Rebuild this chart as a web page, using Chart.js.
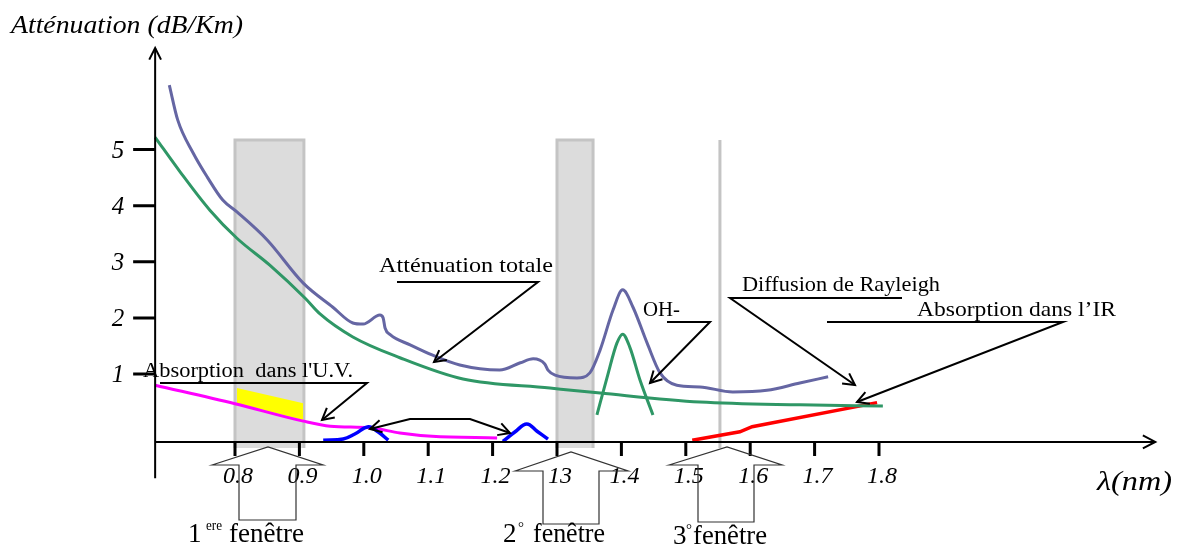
<!DOCTYPE html>
<html>
<head>
<meta charset="utf-8">
<script src="https://cdn.jsdelivr.net/npm/chart.js@4.4.1/dist/chart.umd.min.js"></script>
<style>
  html, body { margin: 0; background: #fff; }
  #wrap { width: 1180px; height: 547px; }
</style>
</head>
<body>
<div id="wrap"><canvas id="fibre"></canvas></div>
<script>
// wavelength (x) and attenuation in dB/Km (y)
const totalLambda = [0.698, 0.711, 0.735, 0.757, 0.781, 0.803, 0.850, 0.906, 0.952, 0.983, 0.999, 1.025, 1.030, 1.033, 1.041, 1.072, 1.106, 1.149, 1.211, 1.243, 1.263, 1.281, 1.286, 1.297, 1.331, 1.351, 1.367, 1.387, 1.402, 1.418, 1.440, 1.460, 1.486, 1.522, 1.573, 1.626, 1.677, 1.721];
const totalAtt    = [6.15, 5.53, 4.94, 4.51, 4.10, 3.89, 3.39, 2.62, 2.19, 1.91, 1.89, 2.05, 2.00, 1.82, 1.70, 1.52, 1.34, 1.16, 1.07, 1.20, 1.27, 1.18, 1.07, 0.98, 0.93, 1.02, 1.43, 2.14, 2.50, 2.19, 1.55, 1.02, 0.80, 0.77, 0.68, 0.71, 0.84, 0.95];

const rayleighLambda = [0.676, 0.715, 0.761, 0.803, 0.854, 0.909, 0.932, 0.983, 1.056, 1.154, 1.289, 1.367, 1.522, 1.677, 1.806];
const rayleighAtt    = [5.22, 4.60, 3.92, 3.42, 2.94, 2.35, 2.07, 1.66, 1.29, 0.91, 0.75, 0.66, 0.50, 0.45, 0.43];

const ohLambda = [1.362, 1.378, 1.393, 1.402, 1.413, 1.429, 1.449];
const ohAtt    = [0.27, 0.95, 1.55, 1.71, 1.48, 0.89, 0.27];

const uvLambda = [0.676, 0.800, 0.906, 0.948, 1.010, 1.056, 1.106, 1.207];
const uvAtt    = [0.80, 0.47, 0.16, 0.07, 0.04, -0.05, -0.11, -0.14];

const yellowLambda = [0.803, 0.906];
const yellowTop    = [0.75, 0.48];
const yellowBottom = [0.48, 0.18];

const bump1Lambda = [0.937, 0.968, 0.986, 1.007, 1.022, 1.038];
const bump1Att    = [-0.18, -0.16, -0.07, 0.06, -0.03, -0.18];
const bump2Lambda = [1.216, 1.235, 1.253, 1.269, 1.286];
const bump2Att    = [-0.20, -0.03, 0.11, -0.02, -0.16];

const irLambda = [1.510, 1.584, 1.603, 1.797];
const irAtt    = [-0.18, -0.03, 0.06, 0.49];

// transmission windows
const windowStart = [0.800, 1.300, 1.553];
const windowEnd   = [0.907, 1.356, 1.553];
const windowTopAtt = 5.17;
const windowBottomAtt = -0.32;

// axes
const xTickValues = [0.8, 0.9, 1.0, 1.1, 1.2, 1.3, 1.4, 1.5, 1.6, 1.7, 1.8];
const xTickLabels = ['0.8', '0.9', '1.0', '1.1', '1.2', '13', '1.4', '1.5', '1.6', '1.7', '1.8'];
const yTickValues = [1, 2, 3, 4, 5];
const originLambda = 0.676;
const originAtt = -0.21;

const SERIF = '"Liberation Serif", "Times New Roman", serif';

function pts(xs, ys) {
  return xs.map((x, i) => ({ x: x, y: ys[i] }));
}

function curve(data, color, width, order, smooth) {
  const ds = {
    data: data, borderColor: color, borderWidth: width, pointRadius: 0,
    fill: false, order: order
  };
  if (smooth === 'monotone') ds.cubicInterpolationMode = 'monotone';
  else ds.tension = smooth;
  return ds;
}

const datasets = [];
for (let i = 0; i < windowStart.length; i++) {
  datasets.push({
    data: [
      { x: windowStart[i], y: windowBottomAtt }, { x: windowStart[i], y: windowTopAtt },
      { x: windowEnd[i], y: windowTopAtt }, { x: windowEnd[i], y: windowBottomAtt }
    ],
    borderColor: '#c4c4c4', borderWidth: 3, backgroundColor: '#dcdcdc',
    fill: { value: windowBottomAtt }, pointRadius: 0, tension: 0, order: 10
  });
}
datasets.push({
  data: pts(yellowLambda, yellowTop), borderWidth: 0, pointRadius: 0,
  backgroundColor: '#ffff00', fill: '+1', order: 5
});
datasets.push({
  data: pts(yellowLambda, yellowBottom), borderWidth: 0, pointRadius: 0,
  fill: false, order: 5
});
datasets.push(curve(pts(totalLambda, totalAtt), '#6566a3', 3, 1, 'monotone'));
datasets.push(curve(pts(rayleighLambda, rayleighAtt), '#2f9766', 3, 1, 'monotone'));
datasets.push(curve(pts(ohLambda, ohAtt), '#2f9766', 3, 1, 'monotone'));
datasets.push(curve(pts(uvLambda, uvAtt), '#ff00ff', 3, 2, 'monotone'));
datasets.push(curve(pts(bump1Lambda, bump1Att), '#0000ff', 3.5, 1, 0.4));
datasets.push(curve(pts(bump2Lambda, bump2Att), '#0000ff', 3.5, 1, 0.4));
datasets.push(curve(pts(irLambda, irAtt), '#ff0000', 3.5, 1, 0));

function arrowHead(ctx, fx, fy, tx, ty, len, spread) {
  const a = Math.atan2(ty - fy, tx - fx);
  ctx.beginPath();
  ctx.moveTo(tx - len * Math.cos(a - spread), ty - len * Math.sin(a - spread));
  ctx.lineTo(tx, ty);
  ctx.lineTo(tx - len * Math.cos(a + spread), ty - len * Math.sin(a + spread));
  ctx.stroke();
}

function leader(ctx, path, both) {
  ctx.beginPath();
  ctx.moveTo(path[0][0], path[0][1]);
  for (let i = 1; i < path.length; i++) ctx.lineTo(path[i][0], path[i][1]);
  ctx.stroke();
  const n = path.length;
  arrowHead(ctx, path[n - 2][0], path[n - 2][1], path[n - 1][0], path[n - 1][1], 13, 0.5);
  if (both) arrowHead(ctx, path[1][0], path[1][1], path[0][0], path[0][1], 13, 0.5);
}

function text(ctx, s, x, y, font, w) {
  ctx.font = font;
  const sx = w ? w / ctx.measureText(s).width : 1;
  ctx.save();
  ctx.translate(x, y);
  ctx.scale(sx, 1);
  ctx.fillText(s, 0, 0);
  ctx.restore();
}

function blockArrow(ctx, tipX, tipY, wingL, wingR, wingY, shaftL, shaftR, bottom) {
  ctx.beginPath();
  ctx.moveTo(wingL, wingY);
  ctx.lineTo(tipX, tipY);
  ctx.lineTo(wingR, wingY);
  ctx.lineTo(shaftR, wingY);
  ctx.lineTo(shaftR, bottom);
  ctx.lineTo(shaftL, bottom);
  ctx.lineTo(shaftL, wingY);
  ctx.closePath();
  ctx.stroke();
}

const axesPlugin = {
  id: 'axesPlugin',
  afterDatasetsDraw(chart) {
    const { ctx } = chart;
    const xs = chart.scales.x, ys = chart.scales.y;
    const x0 = xs.getPixelForValue(originLambda);
    const y0 = ys.getPixelForValue(originAtt);
    const yTop = ys.getPixelForValue(6.81);
    const yBottom = ys.getPixelForValue(-0.86);
    const xRight = xs.getPixelForValue(2.229);

    ctx.save();
    ctx.strokeStyle = '#000';
    ctx.fillStyle = '#000';
    ctx.lineWidth = 2;
    ctx.lineCap = 'butt';

    // axis lines with arrows
    ctx.beginPath();
    ctx.moveTo(x0, yBottom); ctx.lineTo(x0, yTop);
    ctx.moveTo(x0, y0); ctx.lineTo(xRight, y0);
    ctx.stroke();
    arrowHead(ctx, x0, yTop + 20, x0, yTop, 13, 0.47);
    arrowHead(ctx, xRight - 20, y0, xRight, y0, 14, 0.48);

    // ticks
    ctx.lineWidth = 3;
    ctx.beginPath();
    xTickValues.forEach(v => {
      const px = xs.getPixelForValue(v);
      ctx.moveTo(px, y0); ctx.lineTo(px, y0 + 14);
    });
    yTickValues.forEach(v => {
      const py = ys.getPixelForValue(v);
      ctx.moveTo(x0 - 22, py); ctx.lineTo(x0, py);
    });
    ctx.stroke();

    ctx.textAlign = 'center';
    ctx.textBaseline = 'alphabetic';
    ctx.font = 'italic 24px ' + SERIF;
    xTickValues.forEach((v, i) => {
      ctx.fillText(xTickLabels[i], xs.getPixelForValue(v) + 3, y0 + 41);
    });
    ctx.textAlign = 'right';
    ctx.textBaseline = 'alphabetic';
    ctx.font = 'italic 25px ' + SERIF;
    yTickValues.forEach(v => {
      ctx.fillText(String(v), x0 - 31, ys.getPixelForValue(v) + 8);
    });

    // titles
    ctx.textAlign = 'left';
    text(ctx, 'Atténuation (dB/Km)', 11, 33, 'italic 25px ' + SERIF, 232);
    text(ctx, 'λ(nm)', 1097, 490, 'italic 27px ' + SERIF, 75);

    // annotations
    text(ctx, 'Atténuation totale', 379, 272, '22px ' + SERIF, 174);
    text(ctx, 'OH-', 643, 316, '20px ' + SERIF, 37);
    text(ctx, 'Diffusion de Rayleigh', 742, 291, '21px ' + SERIF, 198);
    text(ctx, 'Absorption dans l’IR', 917, 316, '21px ' + SERIF, 199);
    text(ctx, 'Absorption  dans l\'U.V.', 143, 377, '20px ' + SERIF, 210);

    ctx.lineWidth = 2;
    leader(ctx, [[397, 282], [538, 282], [434, 362]]);
    leader(ctx, [[667, 322], [710, 322], [650, 383]]);
    leader(ctx, [[902, 298], [730, 298], [855, 385]]);
    leader(ctx, [[827, 322], [1063, 322], [857, 402]]);
    leader(ctx, [[160, 383], [367, 383], [322, 420]]);
    leader(ctx, [[370, 429], [410, 419], [470, 419], [510, 433]], true);

    // window pointers
    ctx.lineWidth = 1.2;
    ctx.strokeStyle = '#333';
    blockArrow(ctx, 268, 447, 212, 323, 465, 239, 296, 520);
    blockArrow(ctx, 571, 452, 515, 628, 471, 543, 599, 524);
    blockArrow(ctx, 727, 447, 669, 782, 465, 698, 754, 522);

    ctx.fillStyle = '#000';
    text(ctx, '1', 188, 542, '27px ' + SERIF);
    text(ctx, 'ere', 206, 530, '15px ' + SERIF, 16);
    text(ctx, 'fenêtre', 229, 542, '27px ' + SERIF, 75);
    text(ctx, '2', 503, 542, '27px ' + SERIF);
    text(ctx, '°', 518, 532, '15px ' + SERIF);
    text(ctx, 'fenêtre', 533, 542, '27px ' + SERIF, 72);
    text(ctx, '3', 673, 544, '27px ' + SERIF);
    text(ctx, '°', 686, 534, '15px ' + SERIF);
    text(ctx, 'fenêtre', 693, 544, '27px ' + SERIF, 74);

    ctx.restore();
  }
};

new Chart(document.getElementById('fibre'), {
  type: 'line',
  data: { datasets: datasets },
  options: {
    responsive: true,
    maintainAspectRatio: false,
    animation: false,
    layout: { padding: 0, autoPadding: false },
    plugins: { legend: { display: false }, tooltip: { enabled: false } },
    scales: {
      x: { type: 'linear', min: 0.435093, max: 2.267393, display: false },
      y: { type: 'linear', min: -2.0837, max: 7.6667, display: false }
    }
  },
  plugins: [axesPlugin]
});
</script>
</body>
</html>
